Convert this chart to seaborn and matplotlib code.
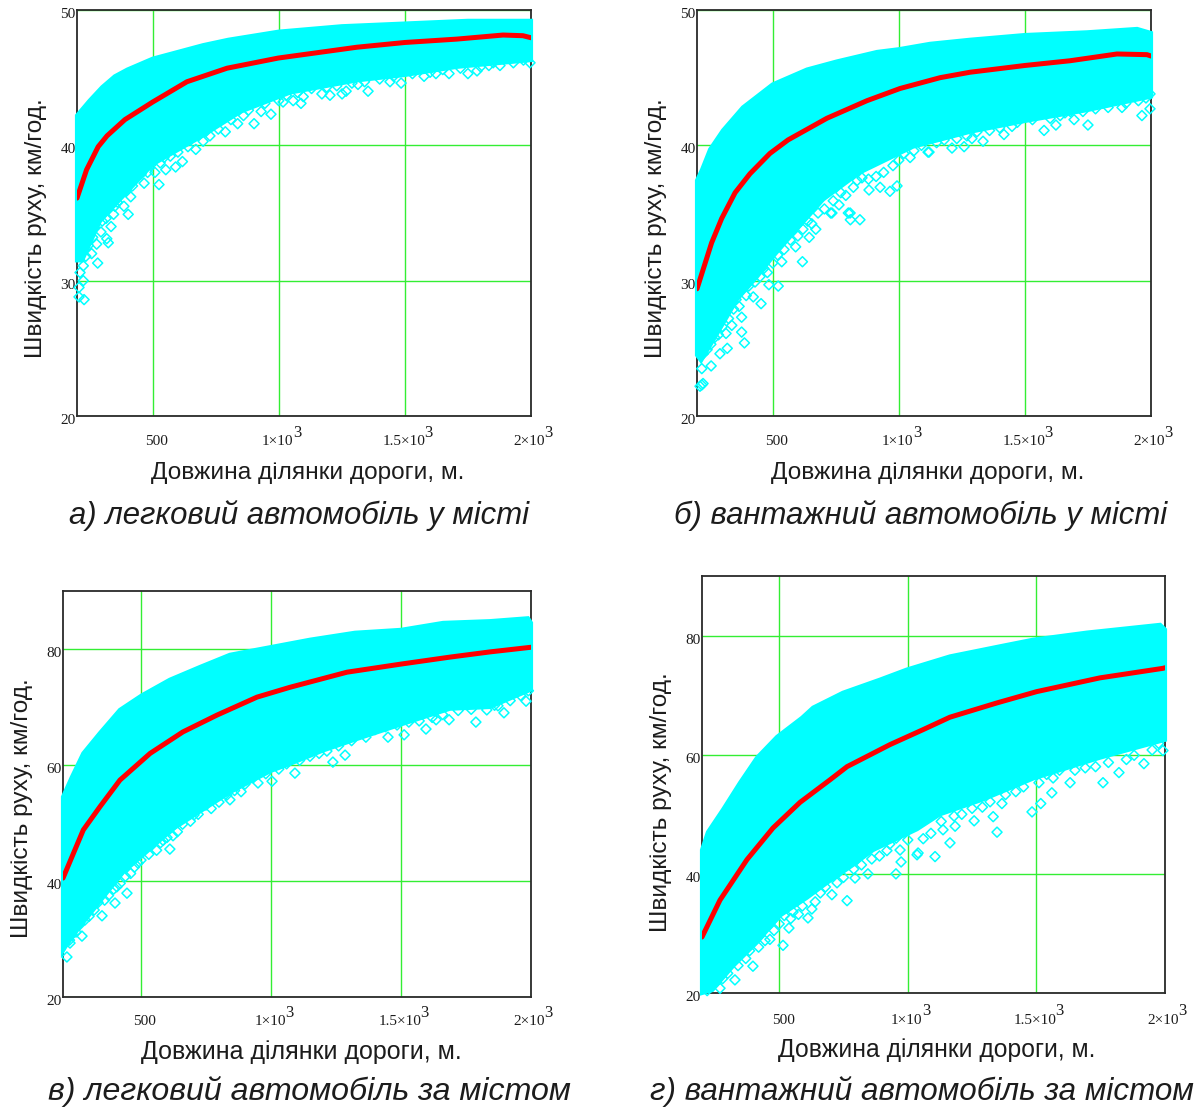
import numpy as np
import pandas as pd
import matplotlib
matplotlib.use("Agg")
import matplotlib.pyplot as plt
from matplotlib.transforms import ScaledTranslation
import seaborn as sns

# ---------- values ----------
a_up_x = [200, 250, 300, 350, 400, 500, 600, 700, 800, 1000, 1250, 1500, 1750, 2000]
a_up_y = [42.2, 43.3, 44.3, 45.1, 45.6, 46.4, 46.9, 47.4, 47.8, 48.4, 48.8, 49.0, 49.2, 49.2]
a_lo_x = [200, 220, 291, 390, 500, 688, 850, 1045, 1310, 1500, 1706, 2000]
a_lo_y = [31.5, 31.5, 34.4, 36.4, 38.6, 40.6, 42.5, 43.9, 44.8, 45.2, 45.8, 46.3]
a_mean_x = [200, 238, 284, 319, 390, 500, 636, 795, 998, 1310, 1500, 1706, 1889, 1968, 2000]
a_mean_y = [36.1, 38.2, 39.9, 40.7, 41.9, 43.2, 44.7, 45.7, 46.45, 47.25, 47.6, 47.85, 48.15, 48.1, 47.95]
a_pts_x = [282, 225, 258, 278, 318, 324, 335, 403, 386, 413, 466, 525, 509, 552, 591, 618, 671, 727, 788, 837,
           902, 969, 1017, 1057, 212, 225, 208, 208, 228, 1088, 1097, 1171, 1203, 1251, 1267, 1354, 1485, 1576,
           1675, 1750, 1786, 1833, 1877, 1996, 1314, 1441, 1623]
a_pts_y = [31.3, 31.1, 32.0, 32.7, 33.1, 32.8, 34.0, 34.9, 35.5, 36.2, 37.2, 37.1, 38.0, 38.2, 38.4, 38.8, 39.7,
           40.7, 41.0, 41.6, 41.6, 42.3, 43.2, 43.3, 30.6, 30.0, 29.5, 28.8, 28.6, 43.1, 43.6, 43.8, 43.7, 43.8,
           44.0, 44.0, 44.6, 45.1, 45.3, 45.3, 45.5, 45.9, 45.9, 46.1, 44.5, 44.7, 45.3]
a_band_x = [235, 245, 262, 270, 295, 300, 315, 345, 350, 360, 372, 395, 420, 435, 455, 480, 495, 530, 545, 570,
            600, 640, 650, 700, 710, 760, 810, 860, 880, 930, 945, 1000, 1030, 1075, 1130, 1190, 1230, 1290, 1340,
            1400, 1455, 1530, 1600, 1650, 1720, 1800, 1850, 1930, 1970]
a_band_y = [31.8, 32.6, 33.2, 33.9, 33.6, 34.4, 34.6, 34.9, 35.5, 35.8, 36.4, 36.6, 37.0, 37.6, 37.9, 38.0, 38.6,
            38.7, 39.1, 39.2, 39.5, 39.9, 40.4, 40.3, 41.0, 41.2, 41.9, 42.2, 42.6, 42.5, 43.1, 43.3, 43.7, 43.9,
            44.2, 44.3, 44.4, 44.6, 44.7, 44.9, 45.1, 45.3, 45.4, 45.6, 45.7, 45.8, 46.1, 46.1, 46.3]

b_up_x = [200, 220, 252, 303, 382, 500, 636, 755, 914, 1000, 1124, 1282, 1500, 1746, 1945, 2000]
b_up_y = [37.4, 38.2, 39.7, 41.1, 42.8, 44.5, 45.6, 46.2, 46.9, 47.1, 47.5, 47.8, 48.15, 48.35, 48.6, 48.3]
b_lo_x = [200, 216, 280, 358, 438, 502, 581, 700, 846, 1056, 1282, 1500, 1746, 2000]
b_lo_y = [24.5, 24.1, 26.1, 28.6, 30.3, 31.8, 33.5, 36.0, 38.0, 39.9, 41.0, 41.8, 42.6, 43.6]
b_mean_x = [200, 258, 298, 351, 410, 489, 561, 715, 874, 1005, 1164, 1282, 1500, 1679, 1865, 1984, 2000]
b_mean_y = [29.4, 32.8, 34.6, 36.5, 37.9, 39.4, 40.4, 42.0, 43.3, 44.2, 45.0, 45.4, 45.9, 46.25, 46.75, 46.7, 46.6]
b_pts_x = [219, 212, 224, 256, 219, 291, 320, 388, 377, 377, 454, 423, 367, 338, 315, 522, 485, 536, 618, 479,
           591, 645, 671, 639, 730, 846, 808, 800, 763, 965, 993, 882, 926, 735, 807, 854, 977, 1045, 1116, 1144,
           1120, 1211, 1259, 1334, 1290, 1417, 1449, 1576, 1623, 1695, 1750, 1964, 1996, 1996, 1885, 1659]
b_pts_y = [22.3, 22.2, 22.4, 23.7, 23.5, 24.6, 25.0, 25.4, 26.2, 27.3, 28.3, 28.8, 28.1, 26.7, 26.1, 29.6, 29.7,
           31.4, 31.4, 30.6, 32.5, 33.2, 33.8, 34.4, 35.0, 34.5, 34.5, 35.0, 35.6, 36.6, 37.0, 36.7, 36.9, 35.0,
           35.0, 37.6, 38.5, 39.1, 39.5, 40.9, 39.5, 39.8, 39.9, 40.3, 40.5, 40.8, 41.4, 41.1, 41.5, 41.9, 41.5,
           42.2, 42.7, 43.8, 42.8, 42.4]
b_band_x = [225, 240, 255, 270, 285, 300, 325, 345, 355, 395, 405, 430, 450, 465, 500, 520, 545, 570, 600, 620,
            655, 680, 705, 740, 770, 790, 820, 835, 880, 910, 940, 1000, 1020, 1060, 1090, 1150, 1180, 1230, 1270,
            1310, 1360, 1400, 1470, 1530, 1600, 1640, 1680, 1730, 1780, 1830, 1900, 1950, 1980]
b_band_y = [24.6, 24.9, 25.3, 25.8, 26.0, 26.6, 27.2, 27.9, 28.6, 28.9, 29.6, 29.9, 30.3, 30.9, 31.3, 31.9, 32.3,
            33.0, 33.3, 33.8, 34.2, 35.0, 35.3, 35.9, 36.5, 36.3, 36.9, 37.4, 37.5, 37.7, 38.0, 38.9, 39.4, 39.6,
            40.0, 40.2, 40.4, 40.5, 40.7, 41.0, 41.1, 41.3, 41.7, 41.9, 42.0, 42.2, 42.5, 42.5, 42.7, 42.8, 43.1,
            43.3, 43.5]

c_up_x = [200, 234, 278, 342, 419, 503, 611, 727, 842, 996, 1150, 1323, 1500, 1662, 1842, 1988, 2000]
c_up_y = [54.5, 57.9, 62.0, 65.5, 69.5, 72.0, 74.7, 76.9, 79.0, 80.3, 81.6, 82.8, 83.3, 84.5, 84.8, 85.3, 84.5]
c_lo_x = [200, 208, 254, 342, 431, 508, 623, 727, 850, 1000, 1073, 1200, 1331, 1500, 1688, 1842, 2000]
c_lo_y = [28.0, 28.6, 31.5, 36.5, 41.5, 44.5, 49.0, 52.0, 55.5, 59.0, 60.2, 62.5, 64.5, 67.0, 69.7, 70.0, 73.0]
c_mean_x = [200, 278, 342, 419, 535, 661, 792, 946, 1073, 1292, 1500, 1688, 1842, 2000]
c_mean_y = [40.5, 48.8, 52.8, 57.4, 62.0, 65.7, 68.6, 71.7, 73.4, 76.0, 77.4, 78.6, 79.5, 80.3]
c_pts_x = [215, 273, 227, 350, 400, 407, 446, 488, 611, 623, 585, 704, 750, 842, 885, 950, 1004, 1092, 1238,
           1185, 1285, 1365, 1450, 1512, 1596, 1635, 1685, 1788, 1896, 1981, 1873, 1485]
c_pts_y = [26.9, 30.5, 29.3, 34.0, 36.2, 39.0, 37.9, 43.1, 45.5, 47.8, 47.0, 51.4, 53.1, 54.0, 55.4, 56.9, 57.2,
           58.6, 60.5, 62.0, 61.7, 64.8, 64.8, 65.2, 66.2, 67.8, 67.8, 67.4, 69.0, 71.0, 70.2, 66.9]
c_band_x = [225, 235, 250, 265, 285, 300, 320, 335, 360, 375, 395, 420, 440, 460, 475, 500, 530, 560, 575, 600,
            640, 660, 690, 720, 770, 800, 830, 860, 900, 930, 980, 1030, 1060, 1110, 1150, 1215, 1260, 1310, 1340,
            1400, 1440, 1530, 1570, 1620, 1660, 1720, 1770, 1830, 1860, 1920, 1960, 1990]
c_band_y = [29.8, 30.8, 31.2, 32.5, 33.3, 33.9, 35.0, 36.3, 36.7, 37.5, 38.6, 39.6, 40.8, 41.3, 42.4, 43.6, 44.6,
            45.3, 46.6, 47.5, 48.5, 49.8, 50.3, 51.5, 52.5, 53.6, 54.8, 55.6, 56.7, 57.8, 58.5, 59.3, 60.2, 60.8,
            61.5, 62.4, 63.3, 64.2, 65.6, 66.1, 66.6, 67.4, 67.6, 68.2, 68.7, 69.4, 69.6, 69.5, 70.3, 71.1, 72.0,
            72.8]

d_up_x = [200, 223, 282, 348, 414, 492, 589, 632, 748, 892, 997, 1164, 1359, 1487, 1697, 1981, 2000]
d_up_y = [44.0, 47.0, 50.8, 55.3, 59.5, 63.0, 66.2, 67.9, 70.4, 72.6, 74.3, 76.5, 78.2, 79.3, 80.5, 81.8, 81.0]
d_lo_x = [200, 240, 320, 413, 503, 608, 686, 787, 865, 1036, 1125, 1293, 1487, 1747, 2000]
d_lo_y = [20.0, 20.5, 24.5, 28.5, 33.0, 36.0, 38.5, 41.5, 44.0, 47.5, 50.0, 52.5, 56.0, 59.5, 62.5]
d_mean_x = [200, 270, 375, 476, 581, 698, 764, 931, 1059, 1164, 1347, 1502, 1747, 1992, 2000]
d_mean_y = [29.4, 35.6, 42.4, 47.7, 52.0, 55.8, 58.0, 61.7, 64.2, 66.3, 68.7, 70.6, 72.9, 74.5, 74.6]
d_pts_x = [270, 328, 398, 464, 515, 538, 612, 627, 554, 705, 764, 795, 845, 954, 974, 970, 1040, 1106, 919, 1036,
           1164, 1137, 1347, 1258, 1332, 1184, 1483, 1517, 1560, 1631, 1759, 1821, 1918, 1992, 1565, 1366]
d_pts_y = [20.8, 22.2, 24.5, 29.0, 28.0, 30.9, 32.6, 34.1, 33.6, 36.5, 35.5, 39.3, 40.0, 40.0, 42.0, 44.0, 43.5,
           42.9, 43.9, 43.2, 45.2, 47.4, 47.0, 48.9, 49.6, 48.0, 50.4, 51.8, 53.6, 55.3, 55.3, 57.0, 58.5, 60.7,
           56.1, 51.8]
d_band_x = [220, 240, 255, 280, 300, 340, 370, 385, 420, 445, 480, 500, 520, 545, 575, 590, 640, 660, 680, 725,
            750, 790, 820, 860, 890, 930, 955, 1000, 1060, 1090, 1130, 1180, 1210, 1250, 1290, 1320, 1380, 1420,
            1450, 1510, 1540, 1590, 1650, 1690, 1730, 1780, 1850, 1880, 1950, 1975]
d_band_y = [20.4, 21.3, 21.8, 22.4, 23.3, 24.6, 25.8, 27.1, 27.7, 28.8, 30.5, 31.6, 33.0, 32.5, 33.2, 34.6, 35.3,
            36.8, 37.8, 38.5, 39.4, 40.8, 41.5, 42.5, 43.0, 45.0, 46.0, 45.7, 45.9, 46.8, 48.8, 49.7, 50.0, 51.0,
            51.2, 52.1, 53.3, 53.8, 54.6, 55.3, 56.7, 57.4, 57.4, 57.8, 58.0, 58.7, 59.2, 59.9, 60.8, 61.9]

x_ticks = [500, 1000, 1500, 2000]
x_tick_labels = ["500", "1×10", "1.5×10", "2×10"]
x_exponent = "3"
y_ticks_top = [20, 30, 40, 50]
y_ticks_bottom = [20, 40, 60, 80]
x_title = "Довжина ділянки дороги, м."
y_title = "Швидкість руху, км/год."
caption_a = "а) легковий автомобіль у місті"
caption_b = "б) вантажний автомобіль у місті"
caption_c = "в) легковий автомобіль за містом"
caption_d = "г) вантажний автомобіль за містом"

# ---------- drawing ----------
W, H = 1196, 1108
sns.set_theme(style="white")
CYAN, RED, LIME, SPINE, INK = "#00FFFF", "#FF0000", "#33EE33", "#2a2a2a", "#1c1c1c"
fig = plt.figure(figsize=(W / 100, H / 100), dpi=100, facecolor="white")


def panel(box, ylim, yticks, up_x, up_y, lo_x, lo_y, mean_x, mean_y, pts_x, pts_y, band_x, band_y,
          xl_c, xl_y, yl_x, yl_c, cap_x, cap_y, caption, cap_ha="center", xpad=13, xl_size=17.6, cap_size=22.4):
    l, t, r, b = box
    ax = fig.add_axes([l / W, 1 - b / H, (r - l) / W, (b - t) / H])
    ax.set_xlim(200, 2000)
    ax.set_ylim(*ylim)
    ax.set_facecolor("white")
    ax.set_xticks(x_ticks, x_tick_labels)
    ax.set_yticks(yticks, [str(v) for v in yticks])
    ax.grid(True, color=LIME, linewidth=1.0, zorder=1)
    ax.set_axisbelow(True)
    ax.tick_params(axis="both", length=0, labelsize=11, labelcolor=INK)
    ax.tick_params(axis="x", pad=xpad)
    ax.tick_params(axis="y", pad=1)
    shifts = [4, -1, -1, -2]
    for lab, dx in zip(ax.get_xticklabels(), shifts):
        lab.set_fontfamily("Liberation Serif")
        lab.set_transform(lab.get_transform() + ScaledTranslation(dx / 100, 0, fig.dpi_scale_trans))
    for lab in ax.get_yticklabels():
        lab.set_fontfamily("Liberation Serif")
        lab.set_transform(lab.get_transform() + ScaledTranslation(0, -3 / 100, fig.dpi_scale_trans))
    for tick, dx in zip(x_ticks[1:], [14, 19, 13]):
        ax.annotate(x_exponent, xy=(tick, 0), xycoords=ax.get_xaxis_transform(), xytext=(dx, -xpad * 100 / 72 + 2.5),
                    textcoords="offset pixels", family="Liberation Serif", fontsize=12, color=INK,
                    ha="left", va="center", annotation_clip=False)
    for s in ax.spines.values():
        s.set_color(SPINE)
        s.set_linewidth(1.3)
    ax.fill(list(up_x) + list(lo_x)[::-1], list(up_y) + list(lo_y)[::-1],
            facecolor=CYAN, edgecolor=CYAN, linewidth=3, clip_on=False, zorder=3)
    cloud = pd.DataFrame({"x": list(pts_x) + list(band_x), "y": list(pts_y) + list(band_y)})
    sns.scatterplot(data=cloud, x="x", y="y", ax=ax, marker="D", s=26,
                    facecolor="none", edgecolor=CYAN, linewidth=1.1, clip_on=False, zorder=3, legend=False)
    sns.lineplot(data=pd.DataFrame({"x": mean_x, "y": mean_y}), x="x", y="y", ax=ax, color=RED, linewidth=3.6,
                 errorbar=None, sort=False, zorder=4, legend=False)
    ax.set_xlabel("")
    ax.set_ylabel("")
    fig.text(xl_c / W, 1 - xl_y / H, x_title, family="Liberation Sans", fontsize=xl_size, color=INK,
             ha="center", va="center")
    fig.text(yl_x / W, 1 - yl_c / H, y_title, family="Liberation Sans", fontsize=17.6, color=INK,
             rotation=90, ha="center", va="center")
    fig.text(cap_x / W, 1 - cap_y / H, caption, family="Liberation Sans", style="italic", fontsize=cap_size,
             color=INK, ha=cap_ha, va="center")


panel((77, 10, 531, 416), (20, 50), y_ticks_top, a_up_x, a_up_y, a_lo_x, a_lo_y, a_mean_x, a_mean_y,
      a_pts_x, a_pts_y, a_band_x, a_band_y, 308, 472.5, 36, 228, 299, 516, caption_a, xpad=14)
panel((697, 10, 1151, 416), (20, 50), y_ticks_top, b_up_x, b_up_y, b_lo_x, b_lo_y, b_mean_x, b_mean_y,
      b_pts_x, b_pts_y, b_band_x, b_band_y, 928, 472.5, 656, 228, 921, 516, caption_b, xpad=14)
panel((63, 591, 531, 997), (20, 90), y_ticks_bottom, c_up_x, c_up_y, c_lo_x, c_lo_y, c_mean_x, c_mean_y,
      c_pts_x, c_pts_y, c_band_x, c_band_y, 301, 1051.5, 22, 808, 309, 1091.5, caption_c, xpad=13,
      xl_size=18, cap_size=23.1)
panel((702, 576, 1165, 993), (20, 90), y_ticks_bottom, d_up_x, d_up_y, d_lo_x, d_lo_y, d_mean_x, d_mean_y,
      d_pts_x, d_pts_y, d_band_x, d_band_y, 937, 1050.5, 661, 802, 650, 1091.5, caption_d, cap_ha="left", xpad=15,
      xl_size=17.8, cap_size=22.6)

fig.savefig("out.png", dpi=100, facecolor="white")
